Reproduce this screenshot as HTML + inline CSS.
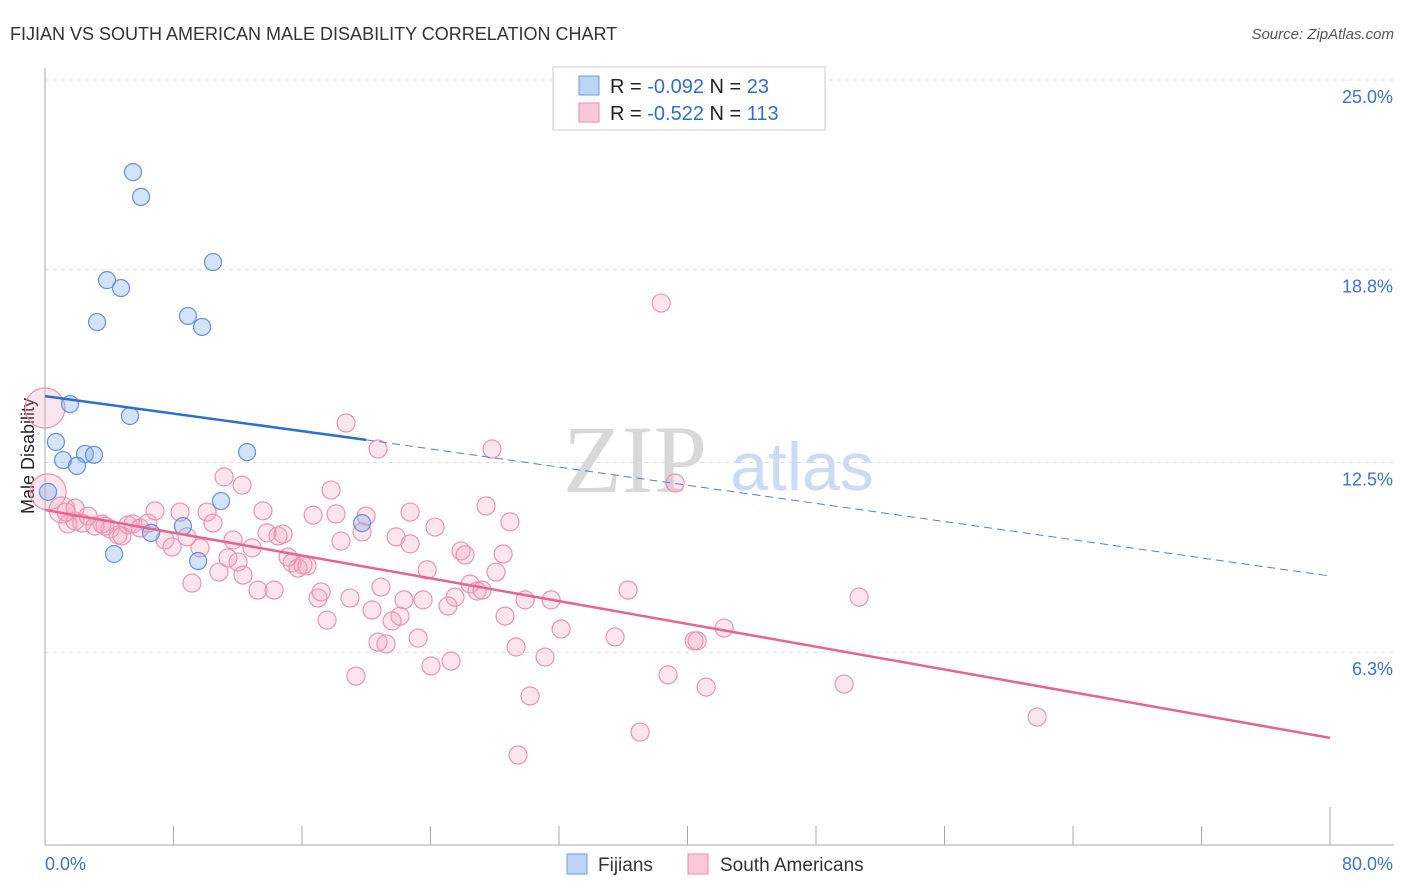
<!DOCTYPE html>
<html><head><meta charset="utf-8"><style>
body{margin:0;background:#fff;font-family:"Liberation Sans",sans-serif;}
#wrap{position:relative;width:1406px;height:892px;overflow:hidden;}
</style></head><body>
<div id="wrap">
<svg id="svg" width="1406" height="892">
<text x="10" y="40" font-size="18" fill="#333">FIJIAN VS SOUTH AMERICAN MALE DISABILITY CORRELATION CHART</text>
<text x="1394" y="39" font-size="15" fill="#555" font-style="italic" text-anchor="end">Source: ZipAtlas.com</text>
<text transform="translate(34,456) rotate(-90)" font-size="18" fill="#222" text-anchor="middle">Male Disability</text>
<text x="635" y="492" font-size="96" fill="#d8d8d8" font-family="Liberation Serif,serif" text-anchor="middle">ZIP</text>
<text x="802" y="490" font-size="68" fill="#c9dcf3" text-anchor="middle">atlas</text>
<g id="grid"></g><g id="marks"></g>
<rect x="553" y="67" width="272" height="63" fill="#fff" stroke="#ccc"/>
<rect x="579" y="76" width="20" height="19" fill="#bcd5f7" stroke="#6e9be0"/>
<rect x="579" y="103" width="20" height="19" fill="#fbc8d9" stroke="#e88eab"/>
<text x="610" y="93" font-size="20" fill="#222">R = <tspan fill="#2f6fd0">-0.092</tspan>   N = <tspan fill="#2f6fd0"> 23</tspan></text>
<text x="610" y="120" font-size="20" fill="#222">R = <tspan fill="#2f6fd0">-0.522</tspan>   N = <tspan fill="#2f6fd0">113</tspan></text>
<rect x="567" y="854" width="20" height="20" fill="#bcd5f7" stroke="#6e9be0"/>
<text x="598" y="871" font-size="19" fill="#333">Fijians</text>
<rect x="688" y="854" width="20" height="20" fill="#fbc8d9" stroke="#e88eab"/>
<text x="720" y="871" font-size="19" fill="#333">South Americans</text>
</svg></div>
<script>
const yTicks=[25.0,18.8,12.5,6.3];
const yTickLabels=["25.0%","18.8%","12.5%","6.3%"];
const xTickVals=[0,8,16,24,32,40,48,56,64,72,80];
const xEndLabels=["0.0%","80.0%"];
const blueX=[5.48,5.98,3.86,4.73,10.46,3.24,8.9,9.78,1.56,5.29,0.68,1.12,2.49,3.05,1.99,12.58,0.19,10.96,8.59,6.6,19.74,4.3,9.53];
const blueY=[21.99,21.18,18.46,18.2,19.05,17.09,17.29,16.93,14.41,14.02,13.17,12.58,12.78,12.75,12.39,12.84,11.54,11.24,10.42,10.2,10.52,9.51,9.28];
const pinkX=[0,0.19,1.06,1.43,1.87,2.3,2.68,3.11,3.55,4.05,4.55,4.79,5.17,5.48,5.92,6.41,6.85,7.47,7.91,8.41,8.84,9.15,9.65,10.09,10.46,10.83,11.15,11.39,11.71,12.02,12.33,12.27,12.89,13.26,13.57,13.82,14.26,14.51,14.82,15.13,15.38,15.75,16.06,16.31,16.69,17.0,17.19,17.56,17.81,18.12,18.43,18.74,18.99,19.36,19.74,19.99,20.36,20.73,20.92,21.23,21.61,21.86,22.1,22.35,22.73,22.73,23.23,23.54,23.79,24.03,24.28,25.09,25.28,25.53,25.9,26.15,26.46,26.9,27.21,27.46,27.83,28.08,28.52,28.64,28.95,29.33,29.45,29.89,30.2,31.13,31.51,32.13,36.3,35.49,37.05,38.36,38.79,39.23,40.41,40.6,41.16,42.28,49.75,50.68,61.77,20.73,1.31,1.87,3.74];
const pinkY=[14.28,11.54,10.95,10.49,10.59,10.52,10.75,10.42,10.49,10.33,10.13,10.1,10.46,10.49,10.36,10.52,10.92,9.97,9.74,10.88,10.07,8.56,9.71,10.88,10.52,8.92,12.03,9.38,9.97,9.25,8.82,11.76,9.71,8.33,10.92,10.2,8.33,10.1,10.16,9.41,9.22,9.05,9.15,9.12,10.78,8.07,8.27,7.35,11.6,10.82,9.93,13.79,8.07,5.52,10.23,10.75,7.68,6.63,8.43,6.57,7.32,10.07,7.48,8.01,9.84,10.88,6.76,8.01,8.99,5.85,10.39,7.81,6.01,8.1,9.61,9.48,8.53,8.3,8.33,11.08,12.94,8.92,9.51,7.48,10.56,6.47,2.94,8.01,4.87,6.14,8.01,7.06,8.33,6.8,3.69,17.71,5.56,11.83,6.67,6.67,5.16,7.09,5.26,8.1,4.18,12.94,10.88,11.01,10.42];
const blueTrend=[14.67,13.24,8.79]; // y at x=0, x=20 (solid end), x=80
const pinkTrend=[10.95,3.5]; // y at x=0, x=80
const X=v=>45+v/80*1285;
const Y=v=>80+(25-v)*30.6;
const NS="http://www.w3.org/2000/svg";
function mk(tag,attrs,parent){const e=document.createElementNS(NS,tag);for(const k in attrs)e.setAttribute(k,attrs[k]);parent.appendChild(e);return e;}
const grid=document.getElementById('grid'),marks=document.getElementById('marks');
yTicks.forEach((t,i)=>{
 const l=mk('line',{x1:45,x2:1394,y1:Y(t),y2:Y(t),stroke:'#ddd','stroke-dasharray':'4,4'},grid);
 
 
 const tx=mk('text',{x:1393,y:Y(t)+23,'font-size':18,fill:'#3a74d2','text-anchor':'end'},grid);
 tx.textContent=yTickLabels[i];
 
 
});
const ax=mk('line',{x1:45,x2:45,y1:68,y2:845,stroke:'#aaa'},grid);


const bx=mk('line',{x1:45,x2:1394,y1:845,y2:845,stroke:'#aaa'},grid);


xTickVals.forEach((t,i)=>{
 const tk=mk('line',{x1:X(t),x2:X(t),y1:(i===xTickVals.length-1?807:826),y2:845,stroke:'#aaa'},grid);
 
 
});
[[0,'start',45],[1,'end',1393]].forEach(([i,a,x])=>{
 const tx=mk('text',{x:x,y:870,'font-size':18,fill:'#3a74d2','text-anchor':a},grid);
 tx.textContent=xEndLabels[i];
 
 
});
pinkX.forEach((v,i)=>{
 const r=i===0?20:i===1?18:i===2?13:9;
 const c=mk('circle',{cx:X(v),cy:Y(pinkY[i]),r:r,fill:'rgba(244,160,190,0.28)',stroke:'#ea94b1','stroke-width':1.2},marks);
 
 
});
blueX.forEach((v,i)=>{
 const c=mk('circle',{cx:X(v),cy:Y(blueY[i]),r:8.5,fill:'rgba(130,175,235,0.35)',stroke:'#5f92e0','stroke-width':1.2},marks);
 
 
});
const bl=mk('line',{x1:X(0),y1:Y(blueTrend[0]),x2:X(20),y2:Y(blueTrend[1]),stroke:'#2b6fd6','stroke-width':2.5},marks);


const bd=mk('line',{x1:X(20),y1:Y(blueTrend[1]),x2:X(80),y2:Y(blueTrend[2]),stroke:'#4a82d8','stroke-width':1,'stroke-dasharray':'8,5'},marks);


const pl=mk('line',{x1:X(0),y1:Y(pinkTrend[0]),x2:X(80),y2:Y(pinkTrend[1]),stroke:'#e8648f','stroke-width':2.5},marks);


</script>
</body></html>
